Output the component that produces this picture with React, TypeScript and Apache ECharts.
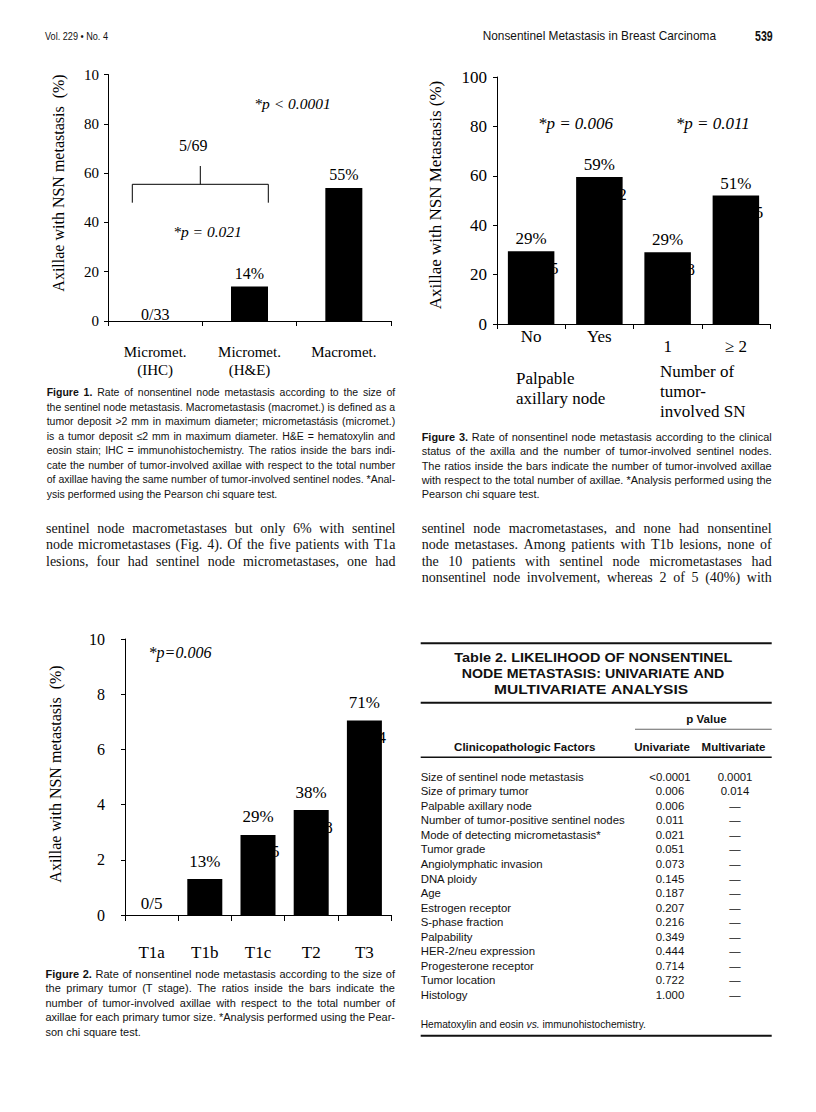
import React, { useEffect, useRef } from "react";
import * as echarts from "echarts";

const SERIF = '"Liberation Serif", "Times New Roman", serif';
const SANS = '"Liberation Sans", Arial, Helvetica, sans-serif';
const INK = "#111";

// ---------------- Figure 1 ----------------
const fig1Categories = ["Micromet.\n(IHC)", "Micromet.\n(H&E)", "Macromet."];
const fig1Values = [0, 14, 54];
const fig1BarLabels = ["0/33", "14%", "55%"];
const fig1YTickLabels = ["0", "20", "40", "60", "80", "10"];
const fig1AxisTitle = "Axillae with NSN metastasis  (%)";
const fig1PTotal = "*p < 0.0001";
const fig1PMicro = "*p = 0.021";
const fig1MicroRatio = "5/69";

// ---------------- Figure 3 ----------------
const fig3Categories = ["No", "Yes", "1", "≥ 2"];
const fig3CategoryGroup = [0, 0, 1, 1];
const fig3Groups = [["Palpable", "axillary node"], ["Number of", "tumor-", "involved SN"]];
const fig3Values = [29.5, 59.5, 29, 52];
const fig3BarLabels = ["29%", "59%", "29%", "51%"];
const fig3HiddenRatioDigits = ["5", "2", "8", "5"];
const fig3YTickLabels = ["0", "20", "40", "60", "80", "100"];
const fig3AxisTitle = "Axillae with NSN Metastasis (%)";
const fig3PValues = ["*p = 0.006", "*p = 0.011"];

// ---------------- Figure 2 ----------------
const fig2Categories = ["T1a", "T1b", "T1c", "T2", "T3"];
const fig2Values = [0, 1.3, 2.9, 3.8, 7.05];
const fig2BarLabels = ["0/5", "13%", "29%", "38%", "71%"];
const fig2HiddenRatioDigits = ["", "", "5", "8", "4"];
const fig2YTickLabels = ["0", "2", "4", "6", "8", "10"];
const fig2AxisTitle = "Axillae with NSN metastasis  (%)";
const fig2PValue = "*p=0.006";

// ---------------- Table 2 ----------------
const tableTitle = ["Table 2.  LIKELIHOOD OF NONSENTINEL", "NODE METASTASIS: UNIVARIATE AND", "MULTIVARIATE ANALYSIS"];
const tableFactors = [
  "Size of sentinel node metastasis",
  "Size of primary tumor",
  "Palpable axillary node",
  "Number of tumor-positive sentinel nodes",
  "Mode of detecting micrometastasis*",
  "Tumor grade",
  "Angiolymphatic invasion",
  "DNA ploidy",
  "Age",
  "Estrogen receptor",
  "S-phase fraction",
  "Palpability",
  "HER-2/neu expression",
  "Progesterone receptor",
  "Tumor location",
  "Histology",
];
const tableUnivariate = ["<0.0001", "0.006", "0.006", "0.011", "0.021", "0.051", "0.073", "0.145", "0.187", "0.207", "0.216", "0.349", "0.444", "0.714", "0.722", "1.000"];
const tableMultivariate = ["0.0001", "0.014", "—", "—", "—", "—", "—", "—", "—", "—", "—", "—", "—", "—", "—", "—"];
const tableFootnote = "Hematoxylin and eosin ^ivs. immunohistochemistry.";

// ---------------- Page text ----------------
const headerLeft = "Vol. 229 • No. 4";
const headerTitle = "Nonsentinel Metastasis in Breast Carcinoma";
const headerPage = "539";

const caption1 = [
  "^bFigure ^b1. Rate of nonsentinel node metastasis according to the size of",
  "the sentinel node metastasis. Macrometastasis (macromet.) is defined as a",
  "tumor deposit >2 mm in maximum diameter; micrometastásis (micromet.)",
  "is a tumor deposit ≤2 mm in maximum diameter. H&E = hematoxylin and",
  "eosin stain; IHC = immunohistochemistry. The ratios inside the bars indi-",
  "cate the number of tumor-involved axillae with respect to the total number",
  "of axillae having the same number of tumor-involved sentinel nodes. *Anal-",
  "ysis performed using the Pearson chi square test.",
];
const caption3 = [
  "^bFigure ^b3. Rate of nonsentinel node metastasis according to the clinical",
  "status of the axilla and the number of tumor-involved sentinel nodes.",
  "The ratios inside the bars indicate the number of tumor-involved axillae",
  "with respect to the total number of axillae. *Analysis performed using the",
  "Pearson chi square test.",
];
const caption2 = [
  "^bFigure ^b2. Rate of nonsentinel node metastasis according to the size of",
  "the primary tumor (T stage). The ratios inside the bars indicate the",
  "number of tumor-involved axillae with respect to the total number of",
  "axillae for each primary tumor size. *Analysis performed using the Pear-",
  "son chi square test.",
];
const bodyLeft = [
  "sentinel node macrometastases but only 6% with sentinel",
  "node micrometastases (Fig. 4). Of the five patients with T1a",
  "lesions, four had sentinel node micrometastases, one had",
];
const bodyRight = [
  "sentinel node macrometastases, and none had nonsentinel",
  "node metastases. Among patients with T1b lesions, none of",
  "the 10 patients with sentinel node micrometastases had",
  "nonsentinel node involvement, whereas 2 of 5 (40%) with",
];

// ---------------- helpers ----------------
let measureCtx: CanvasRenderingContext2D | null = null;
function measure(text: string, font: string): number {
  if (!measureCtx) measureCtx = document.createElement("canvas").getContext("2d");
  measureCtx!.font = font;
  return measureCtx!.measureText(text).width;
}
function fontOf(size: number, family: string, bold = false, italic = false) {
  return `${italic ? "italic " : ""}${bold ? "bold " : ""}${size}px ${family}`;
}
function textEl(text: string, x: number, y: number, font: string, align = "left", extra: any = {}, fill = INK): any {
  return {
    type: "text",
    x,
    y,
    ...extra,
    style: { text, font, fill, textAlign: align, align, textVerticalAlign: "middle", verticalAlign: "middle" },
  };
}
function parseWords(line: string, size: number, family: string, baseBold = false) {
  return line
    .split(/\s+/)
    .filter(Boolean)
    .map((w) => {
      let bold = baseBold;
      let italic = false;
      let t = w;
      while (t.startsWith("^b") || t.startsWith("^i")) {
        if (t.startsWith("^b")) bold = true;
        else italic = true;
        t = t.slice(2);
      }
      const font = fontOf(size, family, bold, italic);
      return { t, font, w: measure(t, font) };
    });
}
function paragraph(lines: string[], x: number, y0: number, dy: number, width: number, size: number, family: string, justifyLast = false) {
  const space = measure(" ", fontOf(size, family));
  const parsed = lines.map((l) => parseWords(l, size, family));
  const justified = lines.map((_, i) => justifyLast || i < lines.length - 1);
  let s = 1;
  parsed.forEach((ws, i) => {
    if (!justified[i]) return;
    const nat = ws.reduce((a, w) => a + w.w, 0) + space * (ws.length - 1);
    s = Math.min(s, width / nat);
  });
  const els: any[] = [];
  parsed.forEach((ws, i) => {
    const y = y0 + i * dy;
    const sum = ws.reduce((a, w) => a + w.w, 0) * s;
    const gap = justified[i] && ws.length > 1 ? (width - sum) / (ws.length - 1) : space * s;
    let cx = x;
    ws.forEach((w) => {
      els.push(textEl(w.t, cx, y, w.font, "left", s !== 1 ? { scaleX: s } : {}));
      cx += w.w * s + gap;
    });
  });
  return els;
}
function fitLine(line: string, x: number, y: number, width: number, size: number, family: string, bold = false) {
  const ws = parseWords(line, size, family, bold);
  const space = measure(" ", fontOf(size, family, bold));
  const nat = ws.reduce((a, w) => a + w.w, 0) + space * (ws.length - 1);
  const s = width / nat;
  let cx = x;
  return ws.map((w) => {
    const e = textEl(w.t, cx, y, w.font, "left", { scaleX: s });
    cx += (w.w + space) * s;
    return e;
  });
}
function rule(x: number, y: number, w: number, h: number, fill = "#111") {
  return { type: "rect", shape: { x, y: y - h / 2, width: w, height: h }, style: { fill } };
}

const lineStyle = { color: "#000", width: 1 };

function catAxis(idx: number, data: string[], label: any, tickLen = 5) {
  return {
    gridIndex: idx,
    type: "category",
    data,
    boundaryGap: true,
    axisLine: { show: true, lineStyle },
    axisTick: { show: true, length: tickLen, lineStyle },
    splitLine: { show: false },
    axisLabel: { color: "#000", fontFamily: SERIF, interval: 0, ...label },
  };
}
function valAxis(idx: number, max: number, interval: number, ticks: string[], fontSize: number, margin: number) {
  return {
    gridIndex: idx,
    type: "value",
    min: 0,
    max,
    interval,
    axisLine: { show: true, lineStyle },
    axisTick: { show: true, length: 4, lineStyle },
    splitLine: { show: false },
    axisLabel: {
      color: "#000",
      fontFamily: SERIF,
      fontSize,
      margin,
      formatter: (v: number) => ticks[Math.round(v / interval)] ?? "",
    },
  };
}
function barSeries(idx: number, values: number[], labels: string[], barWidth: number, fontSize: number, gap: number, zeroGap: number) {
  return {
    type: "bar",
    xAxisIndex: idx,
    yAxisIndex: idx,
    barWidth,
    z: 2,
    itemStyle: { color: "#000" },
    data: values.map((v) => ({ value: v, label: { distance: v === 0 ? zeroGap : gap } })),
    label: {
      show: true,
      position: "top",
      color: "#000",
      fontFamily: SERIF,
      fontSize,
      formatter: (p: any) => labels[p.dataIndex],
    },
  };
}

const BAR_W = [37, 46.5, 35];

const baseOption: any = {
  animation: false,
  backgroundColor: "#fff",
  grid: [
    { left: 108, top: 74.5, width: 283, height: 246.5 },
    { left: 497, top: 77, width: 273, height: 247 },
    { left: 125, top: 639, width: 266, height: 276 },
  ],
  xAxis: [
    catAxis(0, fig1Categories, { fontSize: 15, lineHeight: 18, margin: 22 }),
    catAxis(1, fig3Categories, {
      margin: 4,
      formatter: (v: string, i: number) => (fig3CategoryGroup[i] === 0 ? `{a|${v}}` : `{b|${v}}`),
      rich: {
        a: { fontFamily: SERIF, fontSize: 17, color: "#000", lineHeight: 17 },
        b: { fontFamily: SERIF, fontSize: 17, color: "#000", lineHeight: 17, padding: [20, 0, 0, 0] },
      },
    }),
    catAxis(2, fig2Categories, { fontSize: 17, margin: 29 }, 6),
  ],
  yAxis: [
    valAxis(0, 100, 20, fig1YTickLabels, 15, 9),
    valAxis(1, 100, 20, fig3YTickLabels, 17, 10),
    valAxis(2, 10, 2, fig2YTickLabels, 16, 20),
  ],
  series: [
    barSeries(0, fig1Values, fig1BarLabels, BAR_W[0], 16, 5, -1),
    barSeries(1, fig3Values, fig3BarLabels, BAR_W[1], 17, 4, 3),
    barSeries(2, fig2Values, fig2BarLabels, BAR_W[2], 17, 9.5, 3),
  ],
};

function staticGraphics(): any[] {
  const els: any[] = [];
  // header
  els.push(...fitLine(headerLeft, 45, 36.7, 63, 10, SANS));
  els.push(...fitLine(headerTitle, 482.7, 35.7, 233.3, 13, SANS));
  els.push(...fitLine(headerPage, 755, 35.7, 17.7, 15, SANS, true));

  // Figure 1 annotations
  const rot = Math.PI / 2;
  els.push(textEl(fig1AxisTitle, 58, 183, fontOf(16, SERIF), "center", { rotation: rot }, "#000"));
  els.push(textEl(fig1PTotal, 292.5, 103.3, fontOf(15.5, SERIF, false, true), "center", {}, "#000"));
  els.push(textEl(fig1MicroRatio, 193.3, 145.7, fontOf(16, SERIF), "center", {}, "#000"));
  els.push(textEl(fig1PMicro, 207.5, 231, fontOf(15.5, SERIF, false, true), "center", {}, "#000"));
  els.push({
    type: "polyline",
    shape: { points: [[132.3, 202.7], [132.3, 184.3], [268.3, 184.3], [268.3, 202.7]] },
    style: { stroke: "#000", lineWidth: 1, fill: null },
  });
  els.push({ type: "line", shape: { x1: 200.3, y1: 184.3, x2: 200.3, y2: 166 }, style: { stroke: "#000", lineWidth: 1 } });

  // Figure 3 annotations
  els.push(textEl(fig3AxisTitle, 435, 195, fontOf(17, SERIF), "center", { rotation: rot }, "#000"));
  els.push(textEl(fig3PValues[0], 575.5, 123.3, fontOf(17, SERIF, false, true), "center", {}, "#000"));
  els.push(textEl(fig3PValues[1], 712.8, 123.3, fontOf(17, SERIF, false, true), "center", {}, "#000"));
  const groupPos = [
    [516, 378.3],
    [660, 371.7],
  ];
  fig3Groups.forEach((g, gi) => {
    g.forEach((line, li) => {
      els.push(textEl(line, groupPos[gi][0], groupPos[gi][1] + li * 20, fontOf(17, SERIF), "left", {}, "#000"));
    });
  });

  // Figure 2 annotations
  els.push(textEl(fig2AxisTitle, 55, 774, fontOf(16, SERIF), "center", { rotation: rot }, "#000"));
  els.push(textEl(fig2PValue, 180, 652.7, fontOf(16, SERIF, false, true), "center", {}, "#000"));

  // captions
  els.push(...paragraph(caption1, 46.7, 392, 14.55, 348.5, 11, SANS));
  els.push(...paragraph(caption3, 421.7, 437, 14.3, 350, 11, SANS));
  els.push(...paragraph(caption2, 45.5, 974, 14.4, 349.5, 11, SANS));

  // body text
  els.push(...paragraph(bodyLeft, 46, 528, 16.5, 349.5, 14, SERIF, true));
  els.push(...paragraph(bodyRight, 421.7, 528, 16.5, 350, 14, SERIF, true));

  // Table 2
  const tL = 420.7;
  const tW = 351;
  els.push(rule(tL, 643.3, tW, 2));
  els.push(...fitLine(tableTitle[0], 454.3, 658.3, 278, 12.5, SANS, true));
  els.push(...fitLine(tableTitle[1], 461.7, 674, 262.7, 12.5, SANS, true));
  els.push(...fitLine(tableTitle[2], 494, 689.3, 194.3, 12.5, SANS, true));
  els.push(rule(tL, 702.7, tW, 2));
  els.push(textEl("p Value", 706.5, 719.3, fontOf(11.5, SANS, true), "center"));
  els.push(rule(635, 729.3, 771.7 - 635, 1, "#666"));
  els.push(textEl("Clinicopathologic Factors", 524.7, 747.3, fontOf(11.5, SANS, true), "center"));
  els.push(textEl("Univariate", 662, 747.3, fontOf(11.5, SANS, true), "center"));
  els.push(textEl("Multivariate", 733.5, 747.3, fontOf(11.5, SANS, true), "center"));
  els.push(rule(tL, 757.3, tW, 1.5));
  const refRow = tableFactors[3];
  const tSize = (11 * 204) / measure(refRow, fontOf(11, SANS));
  const tFont = fontOf(tSize, SANS);
  tableFactors.forEach((f, i) => {
    const y = 776.7 + i * 14.55;
    els.push(textEl(f, tL, y, tFont, "left"));
    els.push(textEl(tableUnivariate[i], 670, y, tFont, "center"));
    els.push(textEl(tableMultivariate[i], 735, y, tFont, "center"));
  });
  els.push(...paragraph([tableFootnote], tL, 1024, 14, 230, 10.2, SANS));
  els.push(rule(tL, 1035.7, tW, 2));
  return els;
}

export default function App() {
  const ref = useRef<HTMLDivElement>(null);
  useEffect(() => {
    if (!ref.current) return;
    const chart = echarts.init(ref.current, undefined, { renderer: "svg" });
    chart.setOption(baseOption);

    // ratio digits hidden behind the bars (only their right edge peeks out)
    const hidden: any[] = [];
    const addHidden = (grid: number, values: number[], digits: string[], fontSize: number) => {
      values.forEach((v, i) => {
        if (!digits[i]) return;
        const p = chart.convertToPixel({ gridIndex: grid } as any, [i, v]) as number[];
        if (!p) return;
        const right = p[0] + BAR_W[grid] / 2;
        hidden.push(textEl(digits[i], right - 4.5, p[1] + 17, fontOf(fontSize, SERIF), "left", { z: 1 }, "#000"));
      });
    };
    addHidden(1, fig3Values, fig3HiddenRatioDigits, 17);
    addHidden(2, fig2Values, fig2HiddenRatioDigits, 17);

    chart.setOption({ graphic: { elements: [...staticGraphics(), ...hidden] } });
    return () => chart.dispose();
  }, []);
  return (
    <div
      ref={ref}
      style={{ position: "absolute", left: 0, top: 0, width: 816, height: 1112, background: "#fff" }}
    />
  );
}
